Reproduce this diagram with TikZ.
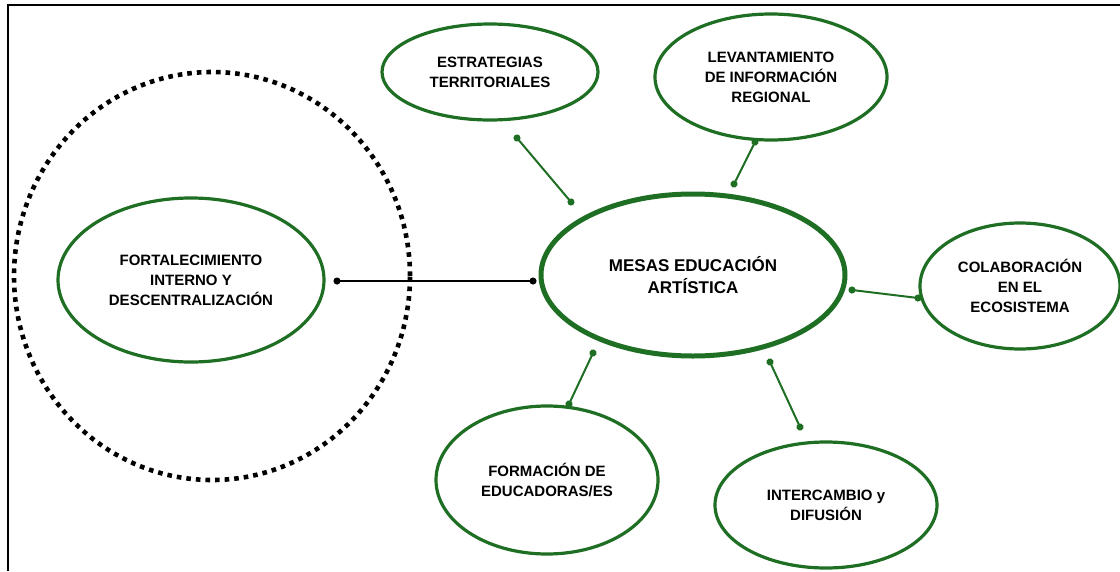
\documentclass[tikz,border=0pt]{standalone}
\usepackage{fontspec}
\setmainfont{Liberation Sans}
\usetikzlibrary{shapes.geometric,arrows.meta}

\definecolor{verde}{RGB}{30,110,35}

\begin{document}
\begin{tikzpicture}[x=1pt,y=-1pt,
	burbuja/.style={ellipse,draw=verde,line width=3.2pt,inner sep=0pt,align=center,
		font=\fontsize{15}{20}\selectfont\bfseries},
	enlace/.style={draw=verde,line width=2pt,{Circle[length=7pt]}-{Circle[length=7pt]},
		shorten <=-3.5pt,shorten >=-3.5pt},
	punteado/.style={ellipse,draw,line width=4.6pt,dash pattern=on 4.6pt off 5pt}]
				\useasboundingbox (0,0) rectangle (1120,571);
				%frame on top and left only
				\draw[line width=2pt] (8,571)--(8,5)--(1120,5);
				%dotted ring around the left bubble
				\node[punteado,minimum width=396pt,minimum height=408pt] (anillo) at (212,276){};
				%center and the bubbles around it
				\node[burbuja,line width=5pt,minimum width=304pt,minimum height=162pt,
					font=\fontsize{17}{22}\selectfont\bfseries] (mesa) at (693,275){MESAS EDUCACIÓN\\ARTÍSTICA};
				\node[burbuja,minimum width=266pt,minimum height=164pt] (fort) at (191,280){FORTALECIMIENTO\\INTERNO Y\\DESCENTRALIZACIÓN};
				\node[burbuja,minimum width=216pt,minimum height=96pt] (estr) at (490,72){ESTRATEGIAS\\TERRITORIALES};
				\node[burbuja,minimum width=232pt,minimum height=126pt] (lev) at (771,77){LEVANTAMIENTO\\DE INFORMACIÓN\\REGIONAL};
				\node[burbuja,minimum width=200pt,minimum height=126pt] (colab) at (1020,286){COLABORACIÓN\\EN EL\\ECOSISTEMA};
				\node[burbuja,minimum width=222pt,minimum height=148pt] (form) at (547,480){FORMACIÓN DE\\EDUCADORAS/ES};
				\node[burbuja,minimum width=222pt,minimum height=126pt] (inter) at (826,505){INTERCAMBIO y\\DIFUSIÓN};
				%% free ends of the links
				\coordinate (fortA) at (337,281);\coordinate (fortB) at (533,281);
				\coordinate (estrA) at (517,138);\coordinate (estrB) at (571,202);
				\coordinate (levA) at (755,142);\coordinate (levB) at (734,184);
				\coordinate (colabA) at (852,290);\coordinate (colabB) at (918,298);
				\coordinate (formA) at (593,353);\coordinate (formB) at (569,404);
				\coordinate (interA) at (770,362);\coordinate (interB) at (800,427);
				%% links
				\draw[enlace,draw=black,line width=1.5pt] (fortA)--(fortB);
				\draw[enlace] (estrA)--(estrB);
				\draw[enlace] (levA)--(levB);
				\draw[enlace] (colabA)--(colabB);
				\draw[enlace] (formA)--(formB);
				\draw[enlace] (interA)--(interB);
\end{tikzpicture}
\end{document}
